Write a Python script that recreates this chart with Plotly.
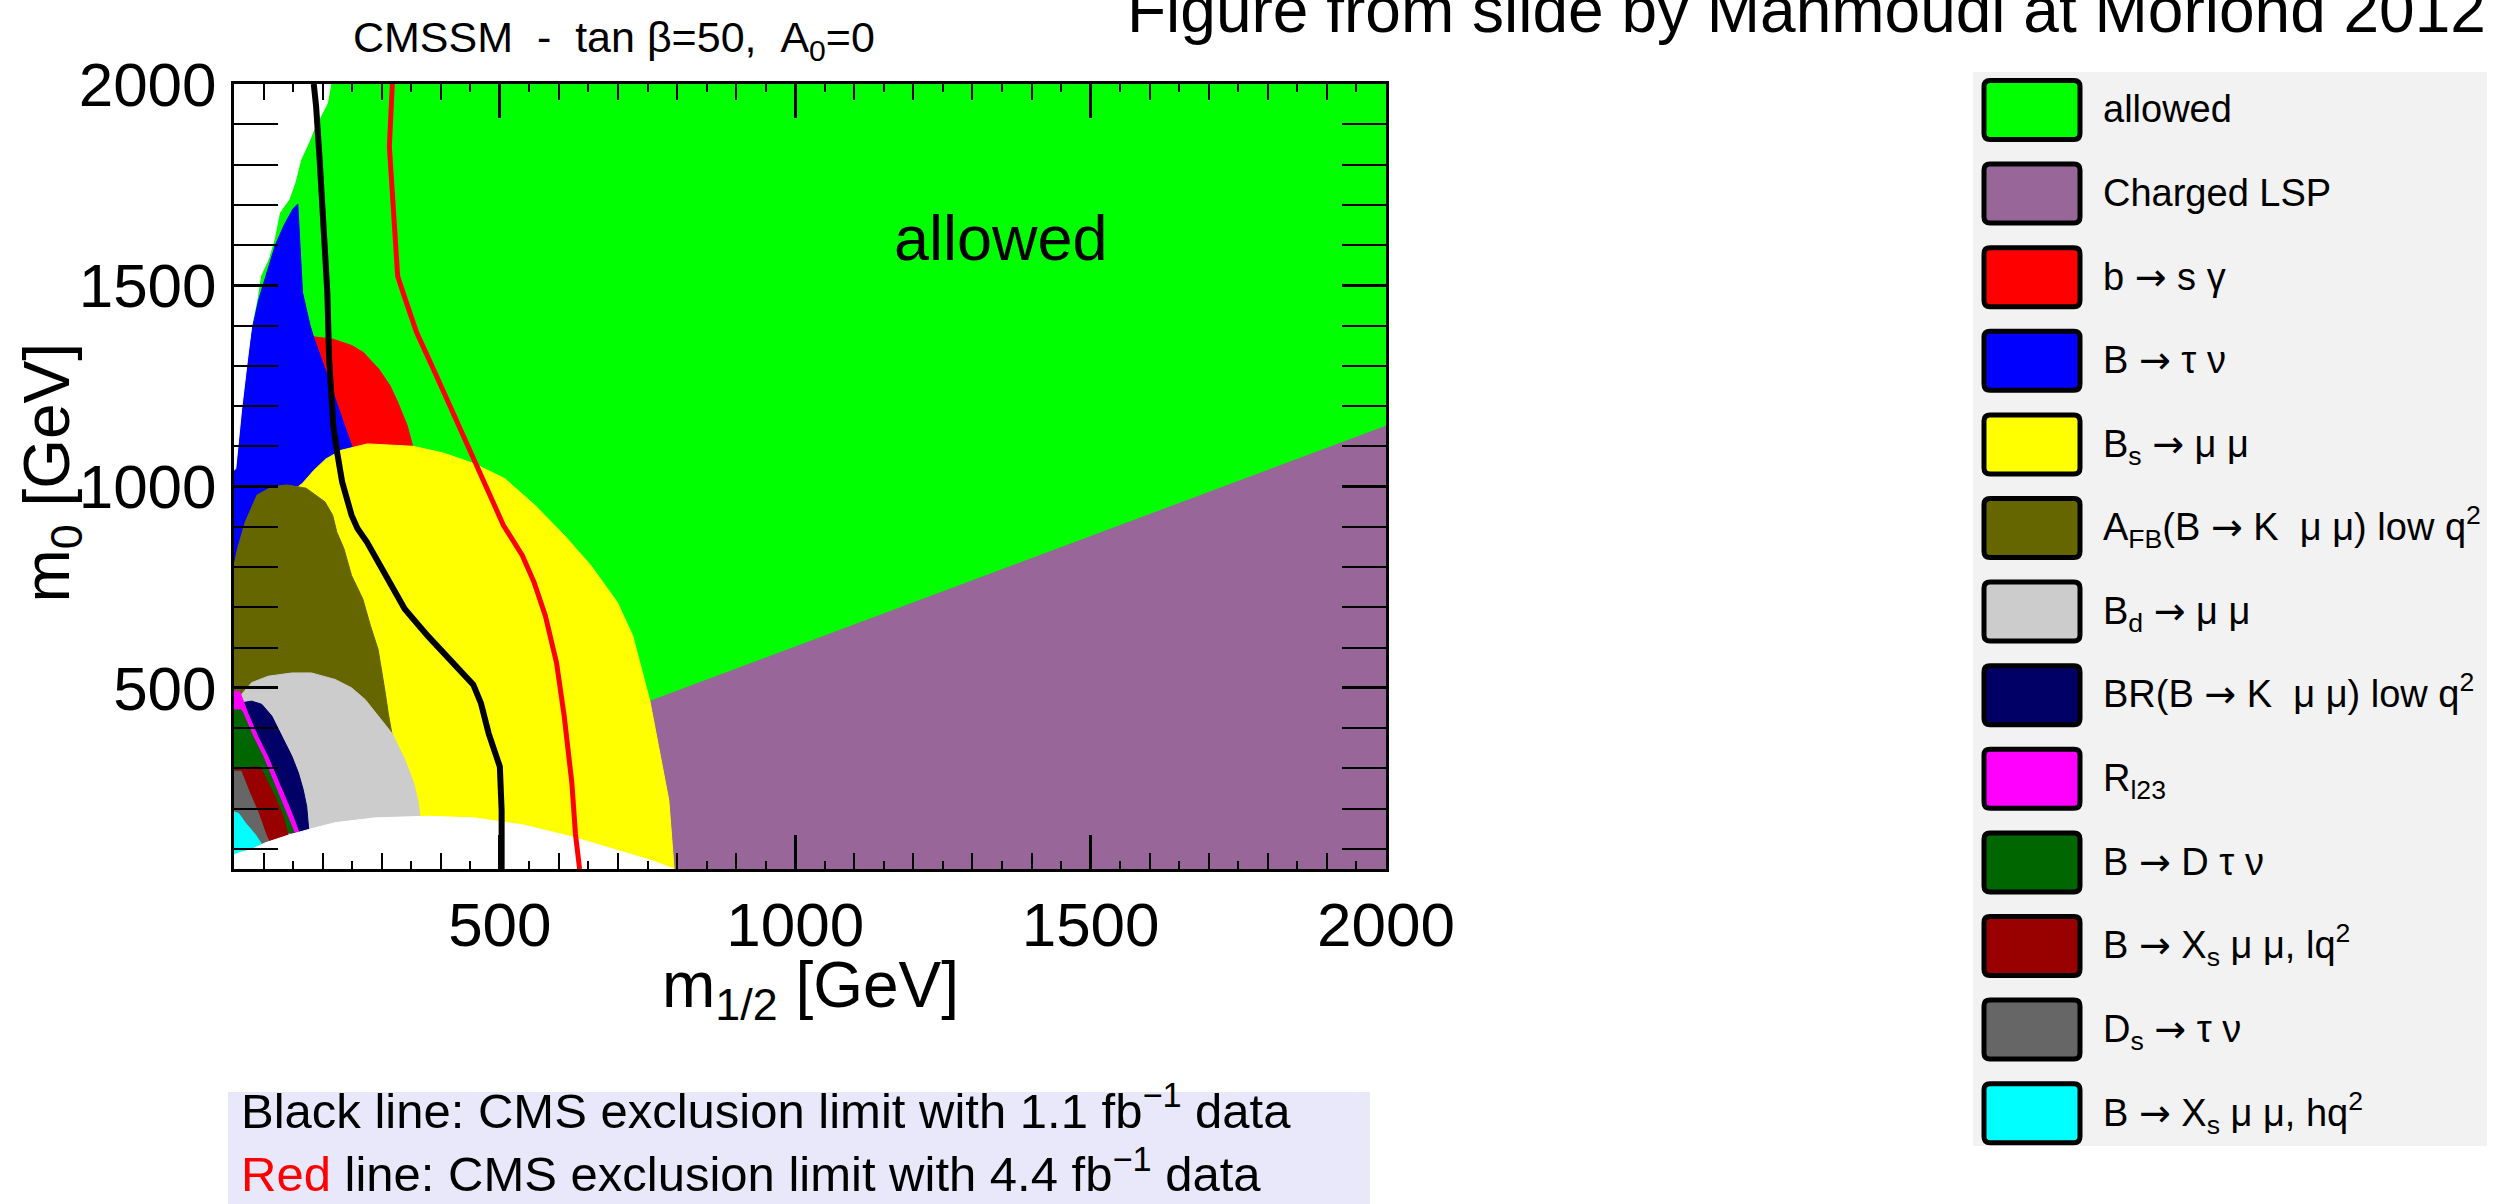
import plotly.graph_objects as go

# ---------------------------------------------------------------------------
# Canvas and plot-area geometry (pixels)
# ---------------------------------------------------------------------------
W, H = 2512, 1204
PLOT_L, PLOT_R, PLOT_T, PLOT_B = 234, 1386, 84, 869
FONT = "Liberation Sans, Arial, Helvetica, sans-serif"
ARROW = "<span style=\"font-family:'DejaVu Sans'\">\u2192</span>"


def px_x(X):
    return (X - PLOT_L) / (PLOT_R - PLOT_L)


def px_y(Y):
    return (PLOT_B - Y) / (PLOT_B - PLOT_T)


def mid_from_baseline(baseline, size, sub=False, sup=False):
    """Vertical centre of a text box whose baseline sits at `baseline` (px)."""
    top = baseline - (0.905 + (0.15 if sup else 0.0)) * size
    bottom = baseline + (0.212 + (0.15 if sub else 0.0)) * size
    return 0.5 * (top + bottom)


def rounded_box_path(x0, y0, x1, y1, r):
    """SVG path (paper coordinates) of a rectangle with rounded corners, given in px."""
    pts = [
        ("M", [(x0 + r, y0)]),
        ("L", [(x1 - r, y0)]), ("Q", [(x1, y0), (x1, y0 + r)]),
        ("L", [(x1, y1 - r)]), ("Q", [(x1, y1), (x1 - r, y1)]),
        ("L", [(x0 + r, y1)]), ("Q", [(x0, y1), (x0, y1 - r)]),
        ("L", [(x0, y0 + r)]), ("Q", [(x0, y0), (x0 + r, y0)]),
    ]
    parts = []
    for cmd, coords in pts:
        parts.append(cmd + " " + " ".join(f"{px_x(a):.5f},{px_y(b):.5f}" for a, b in coords))
    return " ".join(parts) + " Z"


# ---------------------------------------------------------------------------
# Axes
# ---------------------------------------------------------------------------
X_RANGE = [50, 2000]
Y_RANGE = [50, 2000]
MAJOR_TICKS = [500, 1000, 1500, 2000]
X_MID_TICKS = [v for v in range(100, 2000, 100) if v % 500 != 0]

# ---------------------------------------------------------------------------
# Constraint regions in the (m_1/2, m_0) plane, GeV
# ---------------------------------------------------------------------------
allowed_m12 = [50, 2000, 2000, 50]
allowed_m0 = [50, 50, 2000, 2000]

charged_lsp_m12 = [700, 700, 2000, 2000]
charged_lsp_m0 = [50, 437, 1150, 50]

bsgamma_m12 = [185, 218, 250, 269, 295, 314, 327, 343, 353, 360, 200, 180]
bsgamma_m0 = [1372, 1366, 1350, 1333, 1292, 1251, 1210, 1152, 1098, 1000, 1000, 1300]

btaunu_m12 = [158, 150, 135, 120, 104, 92, 82, 73, 63, 53, 50, 50, 300,
              250, 237, 218, 198, 185, 179, 166, 161, 158]
btaunu_m0 = [1702, 1690, 1650, 1600, 1523, 1465, 1399, 1317, 1193, 1045, 1040, 700, 700,
             1098, 1152, 1234, 1317, 1370, 1399, 1482, 1614, 1702]

bsmumu_m12 = [50, 60, 130, 150, 166, 185, 205, 231, 276, 353, 405, 456, 508, 559,
              609, 654, 699, 725, 754, 770, 786, 795, 50]
bsmumu_m0 = [780, 800, 950, 990, 1008, 1040, 1068, 1090, 1106, 1100, 1083, 1057, 1020, 954,
             879, 804, 712, 629, 467, 346, 221, 50, 50]

afb_m12 = [50, 56, 69, 89, 115, 140, 172, 204, 217, 224, 236, 249, 268, 281, 294,
           300, 306, 311, 317, 320, 320, 50]
afb_m0 = [804, 846, 912, 979, 1000, 1004, 996, 962, 929, 887, 846, 779, 721, 654, 595,
          546, 488, 438, 388, 350, 50, 50]

bdmumu_m12 = [50, 60, 80, 108, 148, 181, 221, 249, 272, 294, 317, 339, 354, 362, 365, 366, 366, 50]
bdmumu_m0 = [470, 479, 513, 529, 537, 537, 521, 500, 471, 430, 388, 322, 264, 215, 182, 160, 50, 50]

bkmumu_m12 = [50, 63, 80, 97, 114, 131, 148, 159, 167, 173, 176, 177, 50]
bkmumu_m0 = [463, 463, 467, 459, 430, 380, 330, 289, 248, 206, 157, 140, 140]

rl23_m12 = [50, 60, 73, 90, 107, 124, 138, 152, 160, 50]
rl23_m0 = [492, 490, 438, 380, 330, 273, 223, 173, 140, 140]

bdtaunu_m12 = [50, 62, 65, 82, 99, 115, 130, 144, 152, 50]
bdtaunu_m0 = [445, 445, 438, 380, 330, 273, 223, 173, 140, 140]

bxs_low_m12 = [50, 60, 74, 88, 96, 102, 119, 133, 142, 140, 111, 50]
bxs_low_m0 = [295, 298, 302, 304, 300, 281, 231, 182, 132, 126, 113, 113]

dstaunu_m12 = [50, 62, 74, 91, 105, 111, 95, 50]
dstaunu_m0 = [293, 293, 248, 190, 132, 115, 100, 100]

bxs_high_m12 = [50, 58, 69, 86, 97, 100, 80, 55, 50]
bxs_high_m0 = [192, 188, 165, 136, 111, 104, 90, 88, 90]

# unconstrained corners (no valid spectrum)
low_m0_edge_m12 = [50, 50, 60, 80, 103, 140, 176, 221, 289, 378, 455, 538, 622, 699, 757, 795]
low_m0_edge_m0 = [50, 85, 91, 99, 115, 133, 148, 165, 177, 181, 177, 160, 130, 97, 71, 50]

top_left_edge_m12 = [50, 214, 208, 185, 176, 163, 153, 143, 127, 118, 108, 95, 89, 80, 73, 63, 53, 50]
top_left_edge_m0 = [2000, 2000, 1952, 1886, 1853, 1812, 1754, 1713, 1680, 1614, 1564, 1523,
                    1465, 1400, 1317, 1193, 1045, 1040]

# CMS exclusion contours
cms_11_m12 = [185, 189, 195, 202, 208, 211, 218, 224, 233, 249, 259, 275, 301, 339, 378,
              403, 429, 455, 468, 481, 500, 503, 503]
cms_11_m0 = [2000, 1944, 1812, 1647, 1482, 1317, 1152, 1090, 1012, 929, 896, 862, 796, 696, 629,
             588, 546, 508, 462, 387, 304, 196, 50]

cms_44_m12 = [318, 313, 318, 324, 327, 340, 359, 385, 418, 443, 468, 506, 538, 558, 577,
              596, 609, 622, 628, 635]
cms_44_m0 = [2000, 1845, 1730, 1598, 1523, 1465, 1383, 1300, 1193, 1105, 1029, 904, 829, 762, 679,
             562, 429, 262, 137, 50]

# ---------------------------------------------------------------------------
# Colours and legend entries
# ---------------------------------------------------------------------------
C_ALLOWED = "#00ff00"
C_LSP = "#996699"
C_BSG = "#ff0000"
C_BTN = "#0000ff"
C_BSMM = "#ffff00"
C_AFB = "#666600"
C_BDMM = "#cccccc"
C_BKMM = "#000066"
C_RL23 = "#ff00ff"
C_BDTN = "#006600"
C_BXSL = "#990000"
C_DSTN = "#666666"
C_BXSH = "#00ffff"

legend_labels = [
    "allowed",
    "Charged LSP",
    f"b {ARROW} s \u03b3",
    f"B {ARROW} \u03c4 \u03bd",
    f"B<sub>s</sub> {ARROW} \u03bc \u03bc",
    f"A<sub>FB</sub>(B {ARROW} K \u00a0\u03bc \u03bc) low q<sup>2</sup>",
    f"B<sub>d</sub> {ARROW} \u03bc \u03bc",
    f"BR(B {ARROW} K \u00a0\u03bc \u03bc) low q<sup>2</sup>",
    "R<sub>l23</sub>",
    f"B {ARROW} D \u03c4 \u03bd",
    f"B {ARROW} X<sub>s</sub> \u03bc \u03bc, lq<sup>2</sup>",
    f"D<sub>s</sub> {ARROW} \u03c4 \u03bd",
    f"B {ARROW} X<sub>s</sub> \u03bc \u03bc, hq<sup>2</sup>",
]
legend_colors = [C_ALLOWED, C_LSP, C_BSG, C_BTN, C_BSMM, C_AFB, C_BDMM, C_BKMM,
                 C_RL23, C_BDTN, C_BXSL, C_DSTN, C_BXSH]

# drawing order: later regions are painted on top of earlier ones
regions = [
    (allowed_m12, allowed_m0, C_ALLOWED),
    (charged_lsp_m12, charged_lsp_m0, C_LSP),
    (bsgamma_m12, bsgamma_m0, C_BSG),
    (btaunu_m12, btaunu_m0, C_BTN),
    (bsmumu_m12, bsmumu_m0, C_BSMM),
    (afb_m12, afb_m0, C_AFB),
    (bdmumu_m12, bdmumu_m0, C_BDMM),
    (bkmumu_m12, bkmumu_m0, C_BKMM),
    (rl23_m12, rl23_m0, C_RL23),
    (bdtaunu_m12, bdtaunu_m0, C_BDTN),
    (bxs_low_m12, bxs_low_m0, C_BXSL),
    (dstaunu_m12, dstaunu_m0, C_DSTN),
    (bxs_high_m12, bxs_high_m0, C_BXSH),
    (low_m0_edge_m12, low_m0_edge_m0, "#ffffff"),
    (top_left_edge_m12, top_left_edge_m0, "#ffffff"),
]

fig = go.Figure()

for m12, m0, color in regions:
    fig.add_trace(go.Scatter(
        x=m12, y=m0, mode="lines", fill="toself", fillcolor=color,
        line=dict(color=color, width=1), hoverinfo="skip", showlegend=False,
    ))

fig.add_trace(go.Scatter(
    x=cms_11_m12, y=cms_11_m0, mode="lines",
    line=dict(color="black", width=6), hoverinfo="skip", showlegend=False,
))
fig.add_trace(go.Scatter(
    x=cms_44_m12, y=cms_44_m0, mode="lines",
    line=dict(color="#ff0000", width=5), hoverinfo="skip", showlegend=False,
))
# carrier for the secondary (100 GeV) tick axis
fig.add_trace(go.Scatter(x=[], y=[], xaxis="x2", yaxis="y", showlegend=False, hoverinfo="skip"))

# ---------------------------------------------------------------------------
# Text
# ---------------------------------------------------------------------------
annotations = []

TITLE_SIZE = 43
annotations.append(dict(
    text="CMSSM \u00a0- \u00a0tan \u03b2=50, \u00a0A<sub>0</sub>=0",
    xref="paper", yref="paper", x=px_x(614), y=px_y(mid_from_baseline(52, TITLE_SIZE, sub=True)),
    xanchor="center", yanchor="middle", showarrow=False,
    font=dict(family=FONT, size=TITLE_SIZE, color="black"),
))

HEAD_SIZE = 64
annotations.append(dict(
    text="Figure from slide by Mahmoudi at Moriond 2012",
    xref="paper", yref="paper", x=px_x(2488), y=px_y(mid_from_baseline(32, HEAD_SIZE)),
    xanchor="right", yanchor="middle", showarrow=False,
    font=dict(family=FONT, size=HEAD_SIZE, color="black"),
))

AXIS_TITLE_SIZE = 64
annotations.append(dict(
    text="m<sub>1/2</sub> [GeV]",
    xref="paper", yref="paper", x=px_x(810), y=px_y(mid_from_baseline(1006, AXIS_TITLE_SIZE, sub=True)),
    xanchor="center", yanchor="middle", showarrow=False,
    font=dict(family=FONT, size=AXIS_TITLE_SIZE, color="black"),
))
annotations.append(dict(
    text="m<sub>0</sub> [GeV]", textangle=-90,
    xref="paper", yref="paper",
    x=px_x(68 + (0.212 + 0.15 - 0.905) / 2 * AXIS_TITLE_SIZE), y=px_y(473),
    xanchor="center", yanchor="middle", showarrow=False,
    font=dict(family=FONT, size=AXIS_TITLE_SIZE, color="black"),
))

annotations.append(dict(
    text="allowed", xref="x", yref="y", x=1348, y=1618,
    xanchor="center", yanchor="middle", showarrow=False,
    font=dict(family=FONT, size=63, color="black"),
))

# legend panel
shapes = []
LEG_L, LEG_R, LEG_T, LEG_B = 1973, 2487, 72, 1146
shapes.append(dict(type="rect", xref="paper", yref="paper",
                   x0=px_x(LEG_L), x1=px_x(LEG_R), y0=px_y(LEG_B), y1=px_y(LEG_T),
                   fillcolor="#f2f2f2", line=dict(width=0), layer="below"))

ROW0, ROW_STEP = 110, 83.6
BOX_L, BOX_R, BOX_H = 1984, 2080, 59
LEG_TEXT_X, LEG_SIZE = 2101, 38
for i, (label, color) in enumerate(zip(legend_labels, legend_colors)):
    cy = ROW0 + i * ROW_STEP
    shapes.append(dict(type="path", xref="paper", yref="paper",
                       path=rounded_box_path(BOX_L, cy - BOX_H / 2, BOX_R, cy + BOX_H / 2, 6),
                       fillcolor=color, line=dict(color="black", width=5)))
    baseline = cy + 12.5
    annotations.append(dict(
        text=label, xref="paper", yref="paper",
        x=px_x(LEG_TEXT_X),
        y=px_y(mid_from_baseline(baseline, LEG_SIZE, sub="<sub>" in label, sup="<sup>" in label)),
        xanchor="left", yanchor="middle", showarrow=False,
        font=dict(family=FONT, size=LEG_SIZE, color="black"),
    ))

# note below the plot
shapes.append(dict(type="rect", xref="paper", yref="paper",
                   x0=px_x(228), x1=px_x(1370), y0=px_y(1204), y1=px_y(1092),
                   fillcolor="#e8e8fa", line=dict(width=0), layer="below"))
NOTE_SIZE = 49
NOTE_BASELINE = 1127
note_text = (
    "Black line: CMS exclusion limit with 1.1 fb<sup>\u22121</sup> data<br>"
    "<span style='color:#ff0000'>Red</span> line: CMS exclusion limit with 4.4 fb<sup>\u22121</sup> data"
)
annotations.append(dict(
    text=note_text, xref="paper", yref="paper", align="left",
    x=px_x(239), y=px_y(NOTE_BASELINE - (0.905 + 0.15) * NOTE_SIZE - 1),
    xanchor="left", yanchor="top", showarrow=False,
    font=dict(family=FONT, size=NOTE_SIZE, color="black"),
))

# ---------------------------------------------------------------------------
# Layout
# ---------------------------------------------------------------------------
fig.update_layout(
    width=W, height=H,
    margin=dict(l=PLOT_L, r=W - PLOT_R, t=PLOT_T, b=H - PLOT_B, pad=0, autoexpand=False),
    paper_bgcolor="white", plot_bgcolor="white",
    showlegend=False,
    font=dict(family=FONT, color="black"),
    xaxis=dict(
        range=X_RANGE, tickmode="array", tickvals=MAJOR_TICKS,
        ticktext=[str(v) for v in MAJOR_TICKS],
        ticks="inside", ticklen=34, tickwidth=3, tickcolor="black",
        showline=True, linewidth=3, linecolor="black", mirror="allticks",
        showgrid=False, zeroline=False, tickfont=dict(size=62, family=FONT),
        ticklabelstandoff=0, layer="above traces", fixedrange=True,
        minor=dict(tickmode="linear", tick0=0, dtick=50, ticks="inside",
                   ticklen=8, tickwidth=2, tickcolor="black", showgrid=False),
    ),
    xaxis2=dict(
        overlaying="x", anchor="y", side="bottom", range=X_RANGE,
        tickmode="array", tickvals=X_MID_TICKS, ticks="inside", ticklen=16,
        tickwidth=2, tickcolor="black", showticklabels=False, showline=False,
        mirror="allticks", showgrid=False, zeroline=False, layer="above traces",
        fixedrange=True,
    ),
    yaxis=dict(
        range=Y_RANGE, tickmode="array", tickvals=MAJOR_TICKS,
        ticktext=[str(v) for v in MAJOR_TICKS],
        ticks="inside", ticklen=44, tickwidth=3, tickcolor="black",
        showline=True, linewidth=3, linecolor="black", mirror="allticks",
        showgrid=False, zeroline=False, tickfont=dict(size=62, family=FONT),
        ticklabelstandoff=2, layer="above traces", fixedrange=True,
        minor=dict(tickmode="linear", tick0=0, dtick=100, ticks="inside",
                   ticklen=12, tickwidth=2, tickcolor="black", showgrid=False),
    ),
    shapes=shapes,
    annotations=annotations,
)

fig.write_html("out.html", config=dict(displayModeBar=False, staticPlot=True))
